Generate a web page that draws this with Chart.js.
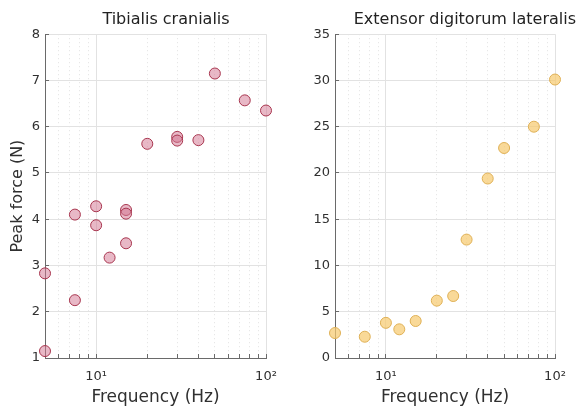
<!DOCTYPE html>
<html>
<head>
<meta charset="utf-8">
<script src="https://cdn.jsdelivr.net/npm/chart.js@4/dist/chart.umd.min.js"></script>
<style>
  html, body { margin: 0; padding: 0; background: #fff; }
  #wrap { position: relative; width: 576px; height: 410px; }
  canvas { position: absolute; top: 0; }
  #tcChart { left: 0; }
  #edlChart { left: 288px; }
</style>
</head>
<body>
<div id="wrap">
  <canvas id="edlChart" width="288" height="410"></canvas>
  <canvas id="tcChart" width="332" height="410"></canvas>
</div>
<script>
// Tibialis cranialis
const tcFreq  = [5, 5, 7.5, 7.5, 10, 10, 12, 15, 15, 15, 20, 30, 30, 40, 50, 75, 100];
const tcForce = [1.15, 2.83, 2.25, 4.1, 4.28, 3.87, 3.17, 4.2, 4.12, 3.48, 5.63, 5.78, 5.7, 5.71, 7.15, 6.57, 6.35];

// Extensor digitorum lateralis
const edlFreq  = [5, 7.5, 10, 12, 15, 20, 25, 30, 40, 50, 75, 100];
const edlForce = [2.7, 2.3, 3.8, 3.1, 4.0, 6.2, 6.7, 12.8, 19.4, 22.7, 25.0, 30.1];

// log axis ticks (only decades get a label)
const freqTicks = [5, 6, 7, 8, 9, 10, 20, 30, 40, 50, 60, 70, 80, 90, 100];
const decadeLabels = { 10: '10\u00b9', 100: '10\u00b2' };

const FONT = "'DejaVu Sans', sans-serif";
const GRID = '#e2e2e2';
const AXIS = '#6a6a6a';
const TEXT = '#303030';
const TICK_IN = -4;   // negative length -> tick marks point into the plot

const isDecade = v => v === 10 || v === 100;

function freqAxis() {
    return {
        type: 'logarithmic', min: 5, max: 100,
        afterBuildTicks: s => { s.ticks = freqTicks.map(v => ({ value: v, major: isDecade(v) })); },
        afterFit: s => {
            s.height = 52;
            // side room is handled by the y axis / spacer
            s.paddingLeft = 0;
            s.paddingRight = 0;
        },
        ticks: {
            autoSkip: false, maxRotation: 0, padding: 11 - TICK_IN, color: TEXT,
            font: { family: FONT, size: 13 },
            callback: v => decadeLabels[v] || ''
        },
        grid: { drawTicks: true, tickLength: TICK_IN, tickColor: AXIS, color: GRID, lineWidth: 1 },
        border: {
            display: true, color: AXIS, width: 1,
            dash: c => (c.tick && !isDecade(c.tick.value)) ? [1, 3] : []
        },
        title: {
            display: true, text: 'Frequency (Hz)', color: TEXT,
            font: { family: FONT, size: 17 }, padding: { top: 0, bottom: 2 }
        }
    };
}

function forceAxis(min, max, step, width, label) {
    const ax = {
        type: 'linear', min: min, max: max,
        afterFit: s => { s.width = width; },
        ticks: { stepSize: step, padding: 5 - TICK_IN, color: TEXT, font: { family: FONT, size: 13 } },
        grid: { drawTicks: true, tickLength: TICK_IN, tickColor: AXIS, color: GRID, lineWidth: 1 },
        border: { display: true, color: AXIS, width: 1 }
    };
    if (label) {
        ax.title = {
            display: true, text: label, color: TEXT,
            font: { family: FONT, size: 16 }, padding: { top: 8, bottom: 0 }
        };
    }
    return ax;
}

// empty axis on the right that only reserves room
function spacer(width) {
    return {
        type: 'linear', position: 'right', display: true,
        afterFit: s => { s.width = width; },
        ticks: { display: false }, grid: { display: false }, border: { display: false }
    };
}

function panel(id, title, align, xs, ys, fill, edge, yMin, yMax, yStep, yWidth, yLabel, rightPad) {
    new Chart(document.getElementById(id), {
        type: 'scatter',
        data: {
            datasets: [{
                data: xs.map((x, i) => ({ x: x, y: ys[i] })),
                backgroundColor: fill, borderColor: edge, borderWidth: 1,
                pointRadius: 5.5, pointHoverRadius: 5.5, clip: false
            }]
        },
        options: {
            responsive: false, animation: false,
            layout: { padding: 0 },
            plugins: {
                legend: { display: false },
                tooltip: { enabled: false },
                title: {
                    display: true, text: title, align: align, color: '#222',
                    font: { family: FONT, size: 16, weight: 'normal' },
                    padding: { top: 10, bottom: 5 }
                }
            },
            scales: {
                x: freqAxis(),
                y: forceAxis(yMin, yMax, yStep, yWidth, yLabel),
                pad: spacer(rightPad)
            }
        }
    });
}

panel('tcChart', 'Tibialis cranialis', 'center', tcFreq, tcForce,
      'rgba(210, 118, 145, 0.52)', '#a8364f', 1, 8, 1, 45, 'Peak force (N)', 66);
panel('edlChart', 'Extensor digitorum lateralis', 'end', edlFreq, edlForce,
      'rgba(246, 202, 112, 0.72)', '#dfb055', 0, 35, 5, 47, null, 21);
</script>
</body>
</html>
